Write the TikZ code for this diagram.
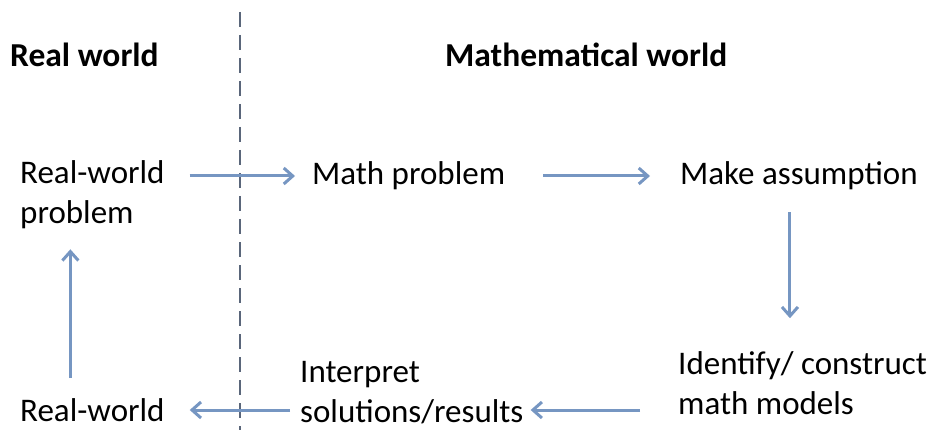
\documentclass[tikz,border=0pt]{standalone}
\usepackage{fontspec}
\setmainfont{Carlito}
\usetikzlibrary{arrows.meta}
\definecolor{flowblue}{RGB}{118,150,194}
\definecolor{splitgray}{RGB}{90,102,122}
\begin{document}
\begin{tikzpicture}[
    x=1pt, y=-1pt,
    every node/.style={font=\fontsize{33}{40}\selectfont, inner sep=0pt, anchor=west},
    step text/.style={align=left},
    heading/.style={font=\fontsize{33.5}{38}\selectfont\bfseries},
    flow/.style={-{Straight Barb[length=9pt,width=16pt]}, line width=3pt, flowblue},
    divider/.style={dashed, dash pattern=on 15pt off 8pt, line width=2.8pt, splitgray}
]
    \useasboundingbox (0,0) rectangle (933,430);
    \node[heading] (realHead) at (10,55) {Real world};
    \node[heading] (mathHead) at (445,55) {Mathematical world};
    \draw[divider] (240,12) -- (240,430);
    \node[step text] (rwp) at (20,195) {Real-world\\problem};
    \node (mp) at (312,176) {Math problem};
    \node (ma) at (680,176) {Make assumption};
    \node[step text] (icm) at (678,383) {Identify/ construct\\math models};
    \node[step text] (isr) at (300,393) {Interpret\\solutions/results};
    \node (rw) at (20,410) {Real-world};
    \draw[flow, shorten <=25pt, shorten >=17pt] (rwp.east |- mp) -- (mp.west);
    \draw[flow, shorten <=38pt, shorten >=30pt] (mp.east) -- (ma.west);
    \draw[flow, shorten <=22pt, shorten >=33pt] ([xshift=-9pt]ma.south) -- ([xshift=-9pt]ma.south |- icm.north);
    \draw[flow, shorten <=38pt, shorten >=7pt] (icm.west |- rw) -- (isr.east |- rw);
    \draw[flow, shorten <=10pt, shorten >=25pt] (isr.west |- rw) -- (rw.east);
    \draw[flow, shorten <=20pt, shorten >=20pt] ([xshift=-22pt]rw.north) -- ([xshift=-22pt]rw.north |- rwp.south);
\end{tikzpicture}
\end{document}
